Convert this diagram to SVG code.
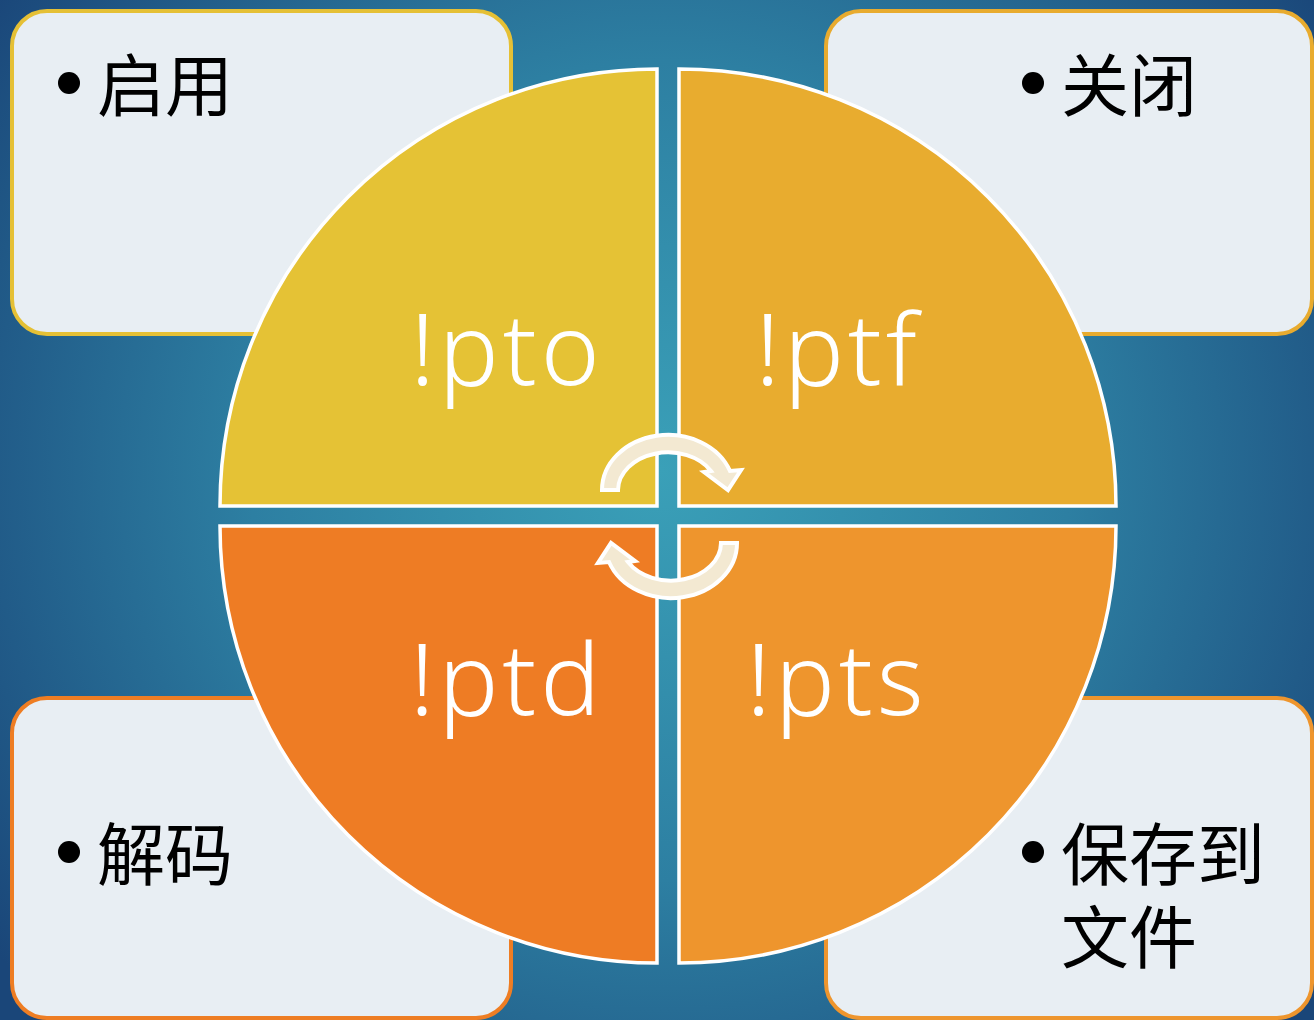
<svg xmlns="http://www.w3.org/2000/svg" width="1314" height="1020" viewBox="0 0 1314 1020">
<defs>
<radialGradient id="bg" cx="660" cy="470" r="820" gradientUnits="userSpaceOnUse">
<stop offset="0" stop-color="#3aa0b8"/>
<stop offset="0.5" stop-color="#2d7fa2"/>
<stop offset="1" stop-color="#1a4679"/>
</radialGradient>
<style>
.box{fill:#e8eef3;stroke-width:4}
.q{stroke:#ffffff;stroke-width:3.5}
.lbl{font-family:"Noto Sans","Open Sans",Lato,sans-serif;font-weight:300;font-size:100px;letter-spacing:4px;fill:#ffffff;text-anchor:middle}
.cn{font-family:"Noto Sans CJK SC",sans-serif;font-size:68px;fill:#000000}
.arr{fill:#f3e9d2;stroke:#ffffff;stroke-width:4;stroke-linejoin:miter}
</style>
</defs>
<rect x="0" y="0" width="1314" height="1020" fill="url(#bg)"/>

<g id="box-enable">
<rect class="box" x="12" y="11" width="499" height="323" rx="35" stroke="#e5c035"/>
<circle cx="69" cy="83" r="11" fill="#000"/>
<text class="cn" x="97" y="111">启用</text>
</g>
<g id="box-close">
<rect class="box" x="826" y="11" width="486" height="323" rx="35" stroke="#e8ab2e"/>
<circle cx="1033" cy="83" r="11" fill="#000"/>
<text class="cn" x="1061" y="111">关闭</text>
</g>
<g id="box-decode">
<rect class="box" x="12" y="698" width="499" height="320" rx="35" stroke="#ee7d23"/>
<circle cx="69" cy="852" r="11" fill="#000"/>
<text class="cn" x="97" y="880">解码</text>
</g>
<g id="box-save">
<rect class="box" x="826" y="698" width="486" height="320" rx="35" stroke="#ee952d"/>
<circle cx="1033" cy="852" r="11" fill="#000"/>
<text class="cn" x="1061" y="880">保存到</text>
<text class="cn" x="1061" y="963">文件</text>
</g>

<g id="q-pto">
<path class="q" fill="#e5c235" d="M657 506 L220 506 A437 437 0 0 1 657 69 Z"/>
<text class="lbl" x="507" y="385">!pto</text>
</g>
<g id="q-ptf">
<path class="q" fill="#e8ac2f" d="M679 506 L679 69 A437 437 0 0 1 1116 506 Z"/>
<text class="lbl" x="838" y="385">!ptf</text>
</g>
<g id="q-ptd">
<path class="q" fill="#ee7c24" d="M657 526 L657 963 A437 437 0 0 1 220 526 Z"/>
<text class="lbl" x="507" y="715">!ptd</text>
</g>
<g id="q-pts">
<path class="q" fill="#ee952d" d="M679 526 L1116 526 A437 437 0 0 1 679 963 Z"/>
<text class="lbl" x="837" y="715">!pts</text>
</g>

<g id="connectors">
<path id="arrow-top" class="arr" d="M602 490 A66 55 0 0 1 730 471 L741 470 L728 490 L704 472 L711 471 A50 38 0 0 0 618 490 Z"/>
<path id="arrow-bottom" class="arr" transform="rotate(180 669.5 516.5)" d="M602 490 A66 55 0 0 1 730 471 L741 470 L728 490 L704 472 L711 471 A50 38 0 0 0 618 490 Z"/>
</g>
</svg>
